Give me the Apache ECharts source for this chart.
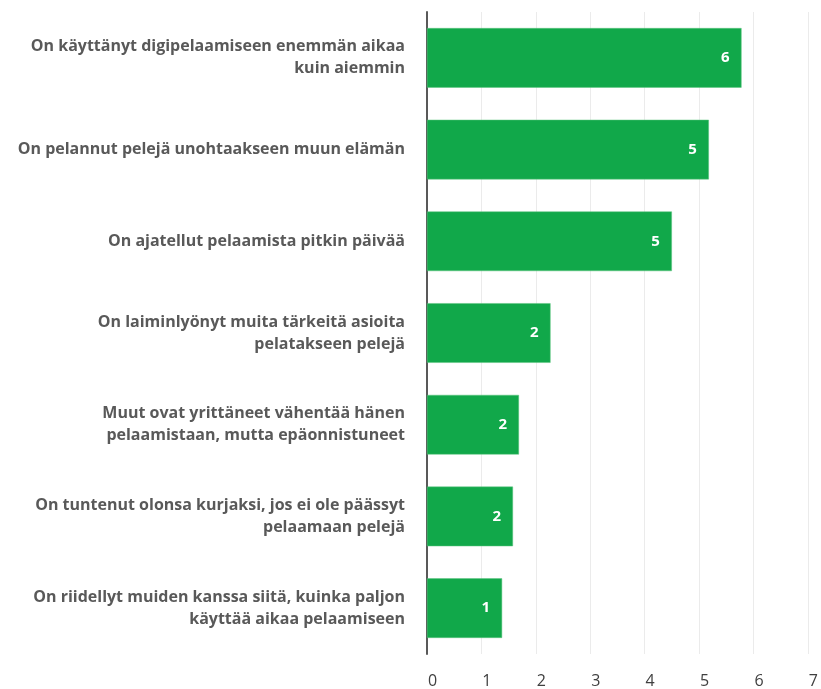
<!DOCTYPE html>
<html>
<head>
<meta charset="utf-8">
<script src="https://cdn.jsdelivr.net/npm/echarts@6/dist/echarts.min.js"></script>
<style>
  html, body { margin: 0; padding: 0; background: #fff; }
  #chart { width: 821px; height: 689px; }
</style>
</head>
<body>
<div id="chart"></div>
<script>
// Statements, top to bottom
const categories = [
  'On käyttänyt digipelaamiseen enemmän aikaa\nkuin aiemmin',
  'On pelannut pelejä unohtaakseen muun elämän',
  'On ajatellut pelaamista pitkin päivää',
  'On laiminlyönyt muita tärkeitä asioita\npelatakseen pelejä',
  'Muut ovat yrittäneet vähentää hänen\npelaamistaan, mutta epäonnistuneet',
  'On tuntenut olonsa kurjaksi, jos ei ole päässyt\npelaamaan pelejä',
  'On riidellyt muiden kanssa siitä, kuinka paljon\nkäyttää aikaa pelaamiseen'
];
// Average scores
const values = [5.78, 5.18, 4.5, 2.27, 1.69, 1.58, 1.38];
// Axis ticks
const tickValues = [0, 1, 2, 3, 4, 5, 6, 7];

const chart = echarts.init(document.getElementById('chart'));
chart.setOption({
  animation: false,
  grid: { left: 427, right: 11, top: 12, bottom: 34, containLabel: false },
  xAxis: {
    type: 'value',
    min: tickValues[0],
    max: tickValues[tickValues.length - 1],
    interval: 1,
    axisLine: { show: false },
    axisTick: { show: false },
    splitLine: { show: true, lineStyle: { color: '#ebebeb', width: 1 } },
    axisLabel: {
      color: '#404040',
      fontFamily: 'Open Sans',
      fontSize: 16,
      margin: 19,
      padding: [0, 0, 0, 11]
    }
  },
  yAxis: {
    type: 'category',
    inverse: true,
    data: categories,
    axisLine: { show: true, lineStyle: { color: '#595959', width: 2 } },
    axisTick: { show: false },
    axisLabel: {
      color: '#595959',
      fontFamily: 'Open Sans',
      fontWeight: 'bold',
      fontSize: 16,
      lineHeight: 22,
      margin: 22,
      align: 'right'
    }
  },
  series: [{
    type: 'bar',
    data: values,
    barCategoryGap: '35%',
    itemStyle: { color: '#11a84a', borderColor: '#5cc47f', borderWidth: 0.5 },
    label: {
      show: true,
      position: 'insideRight',
      distance: 12,
      color: '#ffffff',
      fontFamily: 'Open Sans',
      fontWeight: 'bold',
      fontSize: 15,
      formatter: p => String(Math.round(p.value))
    }
  }]
});
</script>
</body>
</html>
